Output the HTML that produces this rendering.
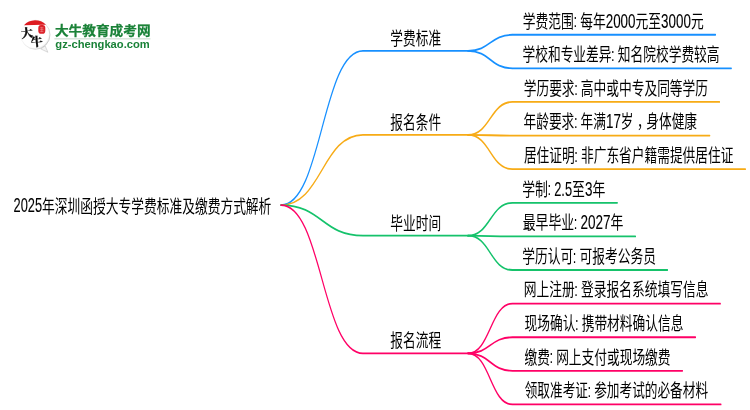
<!DOCTYPE html>
<html lang="zh-CN">
<head>
<meta charset="utf-8">
<title>2025年深圳函授大专学费标准及缴费方式解析</title>
<style>
html,body{margin:0;padding:0;background:#fff;}
body{width:750px;height:410px;overflow:hidden;position:relative;font-family:"Liberation Sans","Noto Sans CJK SC",sans-serif;}
svg{position:absolute;left:0;top:0;display:block;will-change:transform;}
.mm text{font-family:"Liberation Sans","Noto Sans CJK SC",sans-serif;font-size:17.8px;fill:#000;font-weight:400;white-space:pre;}
.mm path{fill:none;stroke-width:1.8;stroke-linecap:round;stroke-linejoin:round;}
</style>
</head>
<body>
<svg width="750" height="410" viewBox="0 0 750 410">
<g class="mm" filter="url(#soft)" transform="scale(0.668,1)">
<path d="M420.66,205.10 C482.04,205.10 482.04,50.85 543.41,50.85 H700.60" stroke="#1890ff"/>
<path d="M700.60,50.85 C733.91,50.85 733.91,34.75 767.22,34.75 H1071.03" stroke="#1890ff"/>
<path d="M700.60,50.85 C733.91,50.85 733.91,68.36 767.22,68.36 H1094.76" stroke="#1890ff"/>
<path d="M420.66,205.10 C482.04,205.10 482.04,134.88 543.41,134.88 H700.60" stroke="#f7ab16"/>
<path d="M700.60,134.88 C733.91,134.88 733.91,101.97 767.22,101.97 H1077.10" stroke="#f7ab16"/>
<path d="M700.60,134.88 C733.91,134.88 733.91,135.58 767.22,135.58 H1062.43" stroke="#f7ab16"/>
<path d="M700.60,134.88 C733.91,134.88 733.91,169.19 767.22,169.19 H1115.87" stroke="#f7ab16"/>
<path d="M420.66,205.10 C482.04,205.10 482.04,235.71 543.41,235.71 H700.60" stroke="#13c26b"/>
<path d="M700.60,235.71 C733.91,235.71 733.91,202.80 767.22,202.80 H924.10" stroke="#13c26b"/>
<path d="M700.60,235.71 C733.91,235.71 733.91,236.41 767.22,236.41 H951.27" stroke="#13c26b"/>
<path d="M700.60,235.71 C733.91,235.71 733.91,270.02 767.22,270.02 H999.21" stroke="#13c26b"/>
<path d="M420.66,205.10 C482.04,205.10 482.04,353.34 543.41,353.34 H700.60" stroke="#ff0066"/>
<path d="M700.60,353.34 C733.91,353.34 733.91,303.63 767.22,303.63 H1078.29" stroke="#ff0066"/>
<path d="M700.60,353.34 C733.91,353.34 733.91,337.24 767.22,337.24 H1041.09" stroke="#ff0066"/>
<path d="M700.60,353.34 C733.91,353.34 733.91,370.85 767.22,370.85 H1021.66" stroke="#ff0066"/>
<path d="M700.60,353.34 C733.91,353.34 733.91,404.46 767.22,404.46 H1079.19" stroke="#ff0066"/>
</g>
<g class="mm" filter="url(#soft)">
<text aria-label="2025年深圳函授大专学费标准及缴费方式解析"><tspan x="13.60" y="212.00" font-size="20.4" stroke="#000" stroke-width="0.12" textLength="28.52" lengthAdjust="spacingAndGlyphs">2025</tspan><tspan x="42.12" y="212.90" textLength="229.23" lengthAdjust="spacingAndGlyphs">年深圳函授大专学费标准及缴费方式解析</tspan></text>
<text aria-label="学费标准"><tspan x="390.30" y="44.80" textLength="50.80" lengthAdjust="spacingAndGlyphs">学费标准</tspan></text>
<text aria-label="学费范围: 每年2000元至3000元"><tspan x="522.80" y="27.60" textLength="51.08" lengthAdjust="spacingAndGlyphs">学费范围</tspan><tspan x="573.43" y="27.30" font-size="17.8" textLength="3.6" lengthAdjust="spacingAndGlyphs">:</tspan><tspan x="576.65" y="27.60" font-size="6"> </tspan><tspan x="580.17" y="27.60" textLength="25.54" lengthAdjust="spacingAndGlyphs">每年</tspan><tspan x="605.71" y="27.60" font-size="20.4" stroke="#000" stroke-width="0.12" textLength="29.84" lengthAdjust="spacingAndGlyphs">2000</tspan><tspan x="635.55" y="27.60" textLength="25.54" lengthAdjust="spacingAndGlyphs">元至</tspan><tspan x="661.09" y="27.60" font-size="20.4" stroke="#000" stroke-width="0.12" textLength="29.84" lengthAdjust="spacingAndGlyphs">3000</tspan><tspan x="690.94" y="27.60" textLength="12.77" lengthAdjust="spacingAndGlyphs">元</tspan></text>
<text aria-label="学校和专业差异: 知名院校学费较高"><tspan x="522.50" y="61.21" textLength="89.04" lengthAdjust="spacingAndGlyphs">学校和专业差异</tspan><tspan x="611.09" y="60.91" font-size="17.8" textLength="3.6" lengthAdjust="spacingAndGlyphs">:</tspan><tspan x="614.29" y="61.21" font-size="6"> </tspan><tspan x="617.80" y="61.21" textLength="101.75" lengthAdjust="spacingAndGlyphs">知名院校学费较高</tspan></text>
<text aria-label="报名条件"><tspan x="390.30" y="128.83" textLength="50.80" lengthAdjust="spacingAndGlyphs">报名条件</tspan></text>
<text aria-label="学历要求: 高中或中专及同等学历"><tspan x="523.70" y="94.82" textLength="50.88" lengthAdjust="spacingAndGlyphs">学历要求</tspan><tspan x="574.13" y="94.52" font-size="17.8" textLength="3.6" lengthAdjust="spacingAndGlyphs">:</tspan><tspan x="577.34" y="94.82" font-size="6"> </tspan><tspan x="580.84" y="94.82" textLength="127.21" lengthAdjust="spacingAndGlyphs">高中或中专及同等学历</tspan></text>
<text aria-label="年龄要求: 年满17岁，身体健康"><tspan x="523.50" y="128.43" textLength="50.83" lengthAdjust="spacingAndGlyphs">年龄要求</tspan><tspan x="573.88" y="128.13" font-size="17.8" textLength="3.6" lengthAdjust="spacingAndGlyphs">:</tspan><tspan x="577.08" y="128.43" font-size="6"> </tspan><tspan x="580.58" y="128.43" textLength="25.41" lengthAdjust="spacingAndGlyphs">年满</tspan><tspan x="606.00" y="128.43" font-size="20.4" stroke="#000" stroke-width="0.12" textLength="14.85" lengthAdjust="spacingAndGlyphs">17</tspan><tspan x="620.85" y="128.43" textLength="12.71" lengthAdjust="spacingAndGlyphs">岁</tspan><tspan x="636.95" y="128.43" textLength="12.71" lengthAdjust="spacingAndGlyphs">，</tspan><tspan x="646.26" y="128.43" textLength="50.83" lengthAdjust="spacingAndGlyphs">身体健康</tspan></text>
<text aria-label="居住证明: 非广东省户籍需提供居住证"><tspan x="523.90" y="162.04" textLength="50.82" lengthAdjust="spacingAndGlyphs">居住证明</tspan><tspan x="574.27" y="161.74" font-size="17.8" textLength="3.6" lengthAdjust="spacingAndGlyphs">:</tspan><tspan x="577.48" y="162.04" font-size="6"> </tspan><tspan x="580.98" y="162.04" textLength="152.47" lengthAdjust="spacingAndGlyphs">非广东省户籍需提供居住证</tspan></text>
<text aria-label="毕业时间"><tspan x="390.30" y="229.66" textLength="50.80" lengthAdjust="spacingAndGlyphs">毕业时间</tspan></text>
<text aria-label="学制: 2.5至3年"><tspan x="522.15" y="195.65" textLength="25.72" lengthAdjust="spacingAndGlyphs">学制</tspan><tspan x="547.42" y="195.35" font-size="17.8" textLength="3.6" lengthAdjust="spacingAndGlyphs">:</tspan><tspan x="550.66" y="195.65" font-size="6"> </tspan><tspan x="554.20" y="195.65" font-size="20.4" stroke="#000" stroke-width="0.12" textLength="17.87" lengthAdjust="spacingAndGlyphs">2.5</tspan><tspan x="572.07" y="195.65" textLength="12.86" lengthAdjust="spacingAndGlyphs">至</tspan><tspan x="584.93" y="195.65" font-size="20.4" stroke="#000" stroke-width="0.12" textLength="7.51" lengthAdjust="spacingAndGlyphs">3</tspan><tspan x="592.45" y="195.65" textLength="12.86" lengthAdjust="spacingAndGlyphs">年</tspan></text>
<text aria-label="最早毕业: 2027年"><tspan x="522.70" y="229.26" textLength="51.46" lengthAdjust="spacingAndGlyphs">最早毕业</tspan><tspan x="573.71" y="228.96" font-size="17.8" textLength="3.6" lengthAdjust="spacingAndGlyphs">:</tspan><tspan x="576.95" y="229.26" font-size="6"> </tspan><tspan x="580.50" y="229.26" font-size="20.4" stroke="#000" stroke-width="0.12" textLength="30.07" lengthAdjust="spacingAndGlyphs">2027</tspan><tspan x="610.56" y="229.26" textLength="12.87" lengthAdjust="spacingAndGlyphs">年</tspan></text>
<text aria-label="学历认可: 可报考公务员"><tspan x="522.15" y="262.87" textLength="51.05" lengthAdjust="spacingAndGlyphs">学历认可</tspan><tspan x="572.75" y="262.57" font-size="17.8" textLength="3.6" lengthAdjust="spacingAndGlyphs">:</tspan><tspan x="575.96" y="262.87" font-size="6"> </tspan><tspan x="579.48" y="262.87" textLength="76.57" lengthAdjust="spacingAndGlyphs">可报考公务员</tspan></text>
<text aria-label="报名流程"><tspan x="390.30" y="347.29" textLength="50.80" lengthAdjust="spacingAndGlyphs">报名流程</tspan></text>
<text aria-label="网上注册: 登录报名系统填写信息"><tspan x="523.80" y="296.48" textLength="50.97" lengthAdjust="spacingAndGlyphs">网上注册</tspan><tspan x="574.32" y="296.18" font-size="17.8" textLength="3.6" lengthAdjust="spacingAndGlyphs">:</tspan><tspan x="577.52" y="296.48" font-size="6"> </tspan><tspan x="581.04" y="296.48" textLength="127.41" lengthAdjust="spacingAndGlyphs">登录报名系统填写信息</tspan></text>
<text aria-label="现场确认: 携带材料确认信息"><tspan x="524.50" y="330.09" textLength="50.90" lengthAdjust="spacingAndGlyphs">现场确认</tspan><tspan x="574.95" y="329.79" font-size="17.8" textLength="3.6" lengthAdjust="spacingAndGlyphs">:</tspan><tspan x="578.15" y="330.09" font-size="6"> </tspan><tspan x="581.66" y="330.09" textLength="101.79" lengthAdjust="spacingAndGlyphs">携带材料确认信息</tspan></text>
<text aria-label="缴费: 网上支付或现场缴费"><tspan x="524.50" y="363.70" textLength="25.42" lengthAdjust="spacingAndGlyphs">缴费</tspan><tspan x="549.47" y="363.40" font-size="17.8" textLength="3.6" lengthAdjust="spacingAndGlyphs">:</tspan><tspan x="552.67" y="363.70" font-size="6"> </tspan><tspan x="556.17" y="363.70" textLength="114.38" lengthAdjust="spacingAndGlyphs">网上支付或现场缴费</tspan></text>
<text aria-label="领取准考证: 参加考试的必备材料"><tspan x="524.70" y="397.31" textLength="63.26" lengthAdjust="spacingAndGlyphs">领取准考证</tspan><tspan x="587.51" y="397.01" font-size="17.8" textLength="3.6" lengthAdjust="spacingAndGlyphs">:</tspan><tspan x="590.70" y="397.31" font-size="6"> </tspan><tspan x="594.18" y="397.31" textLength="113.87" lengthAdjust="spacingAndGlyphs">参加考试的必备材料</tspan></text>
</g>
<defs>
<filter id="soft" filterUnits="userSpaceOnUse" x="0" y="0" width="1200" height="410"><feGaussianBlur stdDeviation="0.33 0.33"/></filter>
<filter id="soft2" filterUnits="userSpaceOnUse" x="0" y="0" width="200" height="80"><feGaussianBlur stdDeviation="0.3 0.3"/></filter>
<radialGradient id="bub" cx="0.46" cy="0.45" r="0.56">
<stop offset="0" stop-color="#ffffff"/>
<stop offset="0.86" stop-color="#ffffff"/>
<stop offset="0.95" stop-color="#f0f0f0"/>
<stop offset="1" stop-color="#dcdcdc"/>
</radialGradient>
<linearGradient id="rim" x1="0" y1="0.2" x2="1" y2="0.8">
<stop offset="0" stop-color="#d8d8d8" stop-opacity="0.25"/>
<stop offset="0.55" stop-color="#cfcfcf" stop-opacity="0.5"/>
<stop offset="1" stop-color="#b4b4b4" stop-opacity="1"/>
</linearGradient>
</defs>
<g class="logo" filter="url(#soft2)">
<path d="M45.2,46.0 L47.9,52.3 L40.8,48.9 Z" fill="#f4f4f4" stroke="#c2c2c2" stroke-width="0.6" stroke-linejoin="round"/>
<circle cx="35.4" cy="34.7" r="14.6" fill="url(#bub)" stroke="url(#rim)" stroke-width="0.7"/>
<path d="M24.0,25.3 A14.9,14.9 0 0 1 46.0,24.8 Q35,24.7 24.0,25.3 Z" fill="#de1a22"/>
<rect x="38.3" y="24.9" width="7.0" height="8.9" rx="2.7" ry="3.1" fill="#dc2029"/>
<path d="M40.1,27.8 h3.4 M40.1,29.6 h3.4 M40.1,31.4 h3.4 M41.8,26.8 v5.4" stroke="#f0a0a3" stroke-width="0.5" fill="none"/>
<text aria-label="大牛" font-family="'Liberation Serif','Noto Serif CJK SC',serif" font-weight="900" font-size="12" stroke="#111" stroke-width="0.22" stroke-linejoin="round" fill="#111"><tspan x="21.6" y="37.9" rotate="-7">大</tspan><tspan x="31.2" y="46.4" rotate="-5">牛</tspan></text>
<text x="54.9" y="34.6" textLength="95.7" lengthAdjust="spacingAndGlyphs" font-family="'Liberation Sans','Noto Sans CJK SC',sans-serif" font-weight="700" font-size="12.9" stroke="#1a8238" stroke-width="0.25" fill="#1a8238">大牛教育成考网</text>
<rect x="54.4" y="38.3" width="96" height="1.1" fill="#c9dccd"/>
<text x="55.3" y="47.6" textLength="94.5" lengthAdjust="spacingAndGlyphs" font-family="'Liberation Sans',sans-serif" font-weight="700" font-size="10.2" fill="#1a8238">gz-chengkao.com</text>
</g>

</svg>
</body>
</html>
